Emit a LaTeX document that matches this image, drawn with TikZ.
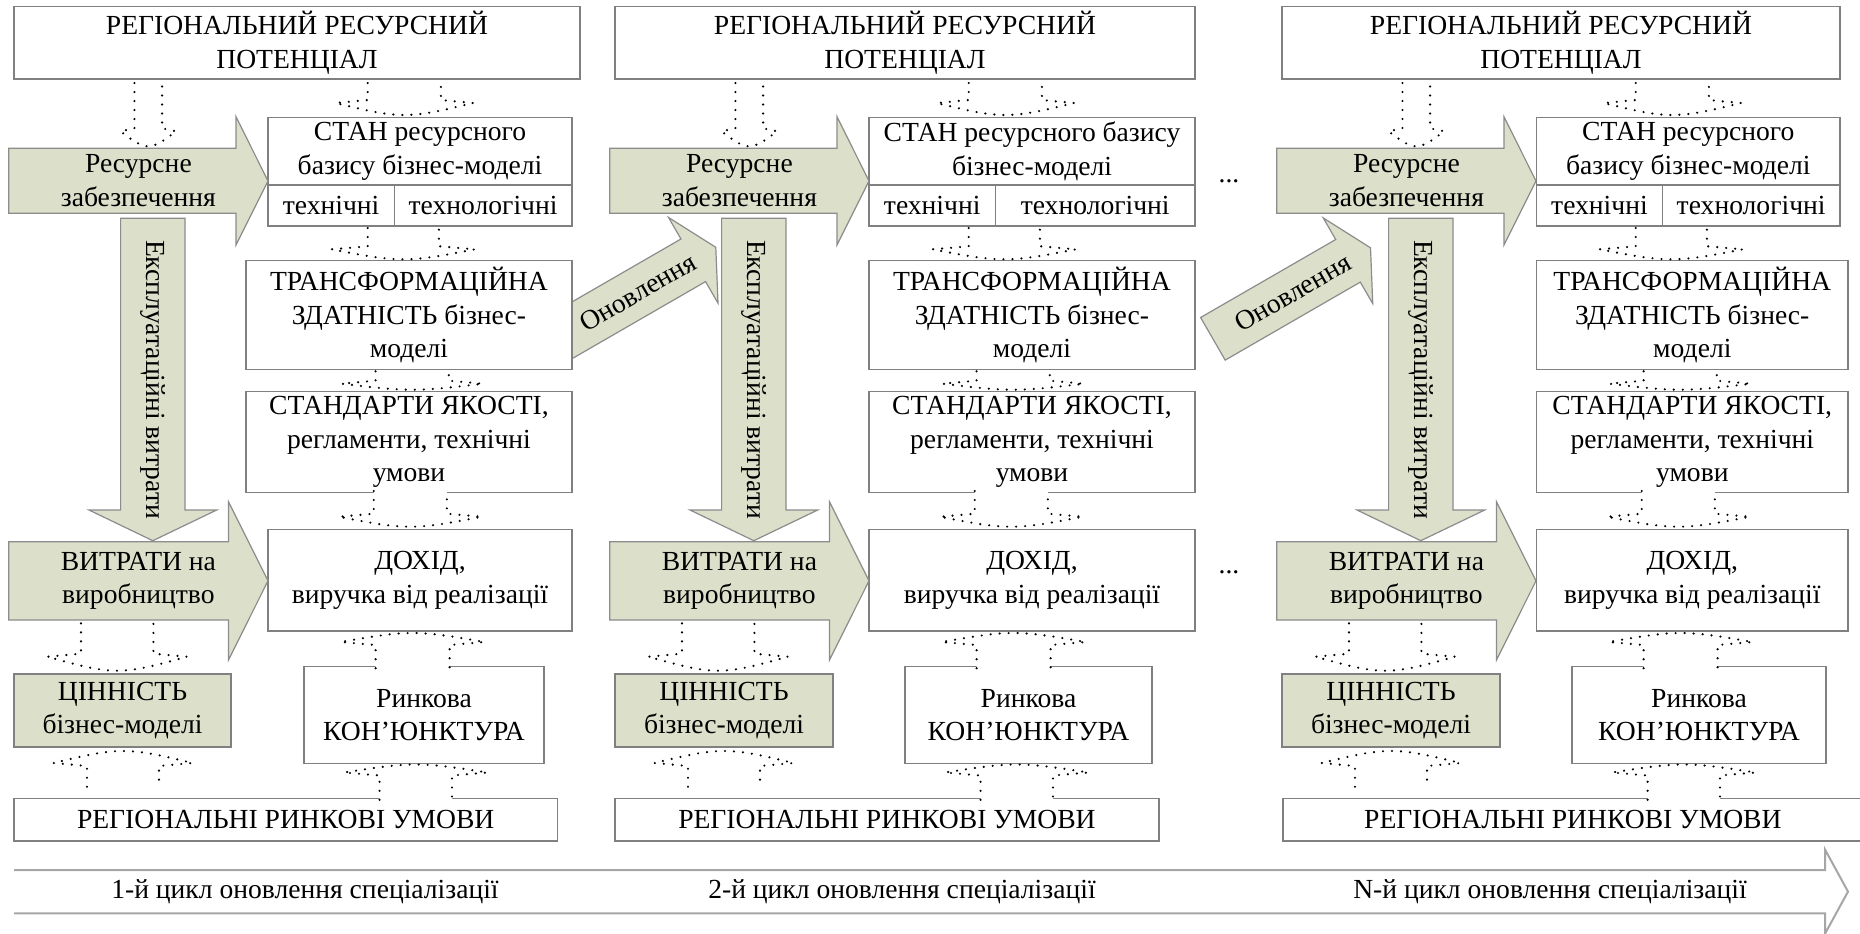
\documentclass[tikz,border=0pt]{standalone}
\usepackage{fontspec}
\setmainfont{Liberation Serif}
\usetikzlibrary{positioning, calc}

\definecolor{olv}{HTML}{DCDFC9}
\newcommand\dfont{\fontsize{13.8}{16.8}\selectfont}

% dotted block arrow: source, target, x centre, half shaft, barb, gap at source, head, gap at tip
\newcommand\dotdn[8]{%
  \draw[dotline] let \p1=(#1), \p2=(#2) in
    ({(#3-#4)*0.5pt},{\y1-(#6)*0.5pt}) -- ({(#3-#4)*0.5pt},{\y2+(#8+#7+3)*0.5pt})
    -- ({(#3-#4-#5)*0.5pt},{\y2+(#8+#7)*0.5pt})
    .. controls ({(#3-0.6*(#4+#5))*0.5pt},{\y2+(#8+0.45*#7)*0.5pt}) and ({(#3-0.3*(#4+#5))*0.5pt},{\y2+(#8)*0.5pt}) .. ({(#3)*0.5pt},{\y2+(#8)*0.5pt})
    .. controls ({(#3+0.3*(#4+#5))*0.5pt},{\y2+(#8)*0.5pt}) and ({(#3+0.6*(#4+#5))*0.5pt},{\y2+(#8+0.45*#7)*0.5pt}) .. ({(#3+#4+#5)*0.5pt},{\y2+(#8+#7)*0.5pt})
    -- ({(#3+#4)*0.5pt},{\y2+(#8+#7+3)*0.5pt}) -- ({(#3+#4)*0.5pt},{\y1-(#6)*0.5pt});}
\newcommand\dotup[8]{%
  \draw[dotline] let \p1=(#1), \p2=(#2) in
    ({(#3-#4)*0.5pt},{\y1+(#6)*0.5pt}) -- ({(#3-#4)*0.5pt},{\y2-(#8+#7+3)*0.5pt})
    -- ({(#3-#4-#5)*0.5pt},{\y2-(#8+#7)*0.5pt})
    .. controls ({(#3-0.6*(#4+#5))*0.5pt},{\y2-(#8+0.45*#7)*0.5pt}) and ({(#3-0.3*(#4+#5))*0.5pt},{\y2-(#8)*0.5pt}) .. ({(#3)*0.5pt},{\y2-(#8)*0.5pt})
    .. controls ({(#3+0.3*(#4+#5))*0.5pt},{\y2-(#8)*0.5pt}) and ({(#3+0.6*(#4+#5))*0.5pt},{\y2-(#8+0.45*#7)*0.5pt}) .. ({(#3+#4+#5)*0.5pt},{\y2-(#8+#7)*0.5pt})
    -- ({(#3+#4)*0.5pt},{\y2-(#8+#7+3)*0.5pt}) -- ({(#3+#4)*0.5pt},{\y1+(#6)*0.5pt});}

\begin{document}
\begin{tikzpicture}[x=0.5pt, y=-0.5pt,
  box/.style={draw=black!50, fill=white, line width=0.7pt, outer sep=0pt, inner sep=1pt, align=center, font=\dfont},
  gbox/.style={box, fill=olv},
  blockarr/.style={draw=black!45, fill=olv, line width=0.6pt},
  lbl/.style={align=center, font=\dfont, inner sep=0pt},
  dotline/.style={black, line width=1.2pt, line cap=round, dash pattern=on 0pt off 4.5pt, fill=white},
  cycarr/.style={draw=black!35, line width=1pt},
  wd/.style={minimum width=#1*0.5pt},
  ht/.style={minimum height=#1*0.5pt}]
  \useasboundingbox (0,0) rectangle (1860,933);

  % renewal arrows (tail of the first one goes under the box)
  \begin{scope}[shift={(554.7,340.3)}, rotate=30]
    \draw[blockarr] (0,-24.6) -- (160,-24.6) -- (160,-49.5) -- (186,0) -- (160,49.5) -- (160,24.6) -- (0,24.6) -- cycle;
    \node[lbl, rotate=30] (upd1) at (96,0) {Оновлення};
  \end{scope}
  \begin{scope}[shift={(1212.9,338.8)}, rotate=30]
    \draw[blockarr] (0,-24.6) -- (156,-24.6) -- (156,-49.5) -- (182,0) -- (156,49.5) -- (156,24.6) -- (0,24.6) -- cycle;
    \node[lbl, rotate=30] (upd2) at (92,0) {Оновлення};
  \end{scope}

  % cycle 1
  \node[box, wd=566, ht=72.3] (pot1) at (297,42.85) {РЕГІОНАЛЬНИЙ РЕСУРСНИЙ\\ПОТЕНЦІАЛ};
  \node[box, wd=304, ht=67.3] (stan1) at (420,151.35) {СТАН ресурсного\\базису бізнес-моделі};
  \node[box, wd=126.2, ht=41, anchor=north west] (tch1) at (stan1.south west) {технічні};
  \node[box, wd=177.8, ht=41, right=0pt of tch1] (tcl1) {технологічні};
  \node[box, wd=326, ht=108.6] (trf1) at (409,315) {ТРАНСФОРМАЦІЙНА\\ЗДАТНІСТЬ бізнес-\\моделі};
  \node[box, wd=326, ht=100.8] (std1) at (409,442.1) {СТАНДАРТИ ЯКОСТІ,\\регламенти, технічні\\умови};
  \node[box, wd=304, ht=101.7] (doh1) at (420,580.15) {ДОХІД,\\виручка від реалізації};
  \node[gbox, wd=217, ht=73] (cin1) at (122.5,710.5) {ЦІННІСТЬ\\бізнес-моделі};
  \node[box, wd=240, ht=96.6] (rnk1) at (424,715) {Ринкова\\КОН’ЮНКТУРА};
  \node[box, wd=543.5, ht=42.7] (reg1) at (285.75,819.65) {РЕГІОНАЛЬНІ РИНКОВІ УМОВИ};

  \draw[blockarr] (8.7,148.3) -- (236,148.3) -- (236,116.7) -- (268,181) -- (236,245) -- (236,213.3) -- (8.7,213.3) -- cycle;
  \node[lbl, ht=65] (res1) at (138.4,180.8) {Ресурсне\\забезпечення};
  \draw[blockarr] (120.6,218.3) -- (185,218.3) -- (185,510) -- (216.7,510) -- (152.8,540.7) -- (89,510) -- (120.6,510) -- cycle;
  \node[lbl, rotate=-90] (exp1) at (152.8,379.5) {Експлуатаційні витрати};
  \draw[blockarr] (8.7,541.7) -- (228.5,541.7) -- (228.5,501.7) -- (268,580.8) -- (228.5,660) -- (228.5,620) -- (8.7,620) -- cycle;
  \node[lbl, ht=78.3] (vyt1) at (138.4,580.85) {ВИТРАТИ на\\виробництво};

  % cycle 2
  \node[box, wd=580, ht=72.3] (pot2) at (905,42.85) {РЕГІОНАЛЬНИЙ РЕСУРСНИЙ\\ПОТЕНЦІАЛ};
  \node[box, wd=326, ht=67.3] (stan2) at (1032,151.35) {СТАН ресурсного базису\\бізнес-моделі};
  \node[box, wd=126.4, ht=41, anchor=north west] (tch2) at (stan2.south west) {технічні};
  \node[box, wd=199.6, ht=41, right=0pt of tch2] (tcl2) {технологічні};
  \node[box, wd=326, ht=108.6] (trf2) at (1032,315) {ТРАНСФОРМАЦІЙНА\\ЗДАТНІСТЬ бізнес-\\моделі};
  \node[box, wd=326, ht=100.8] (std2) at (1032,442.1) {СТАНДАРТИ ЯКОСТІ,\\регламенти, технічні\\умови};
  \node[box, wd=326, ht=101.7] (doh2) at (1032,580.15) {ДОХІД,\\виручка від реалізації};
  \node[gbox, wd=218, ht=73] (cin2) at (724,710.5) {ЦІННІСТЬ\\бізнес-моделі};
  \node[box, wd=247, ht=96.6] (rnk2) at (1028.5,715) {Ринкова\\КОН’ЮНКТУРА};
  \node[box, wd=544, ht=42.7] (reg2) at (887,819.65) {РЕГІОНАЛЬНІ РИНКОВІ УМОВИ};

  \draw[blockarr] (609.7,148.3) -- (837,148.3) -- (837,116.7) -- (869,181) -- (837,245) -- (837,213.3) -- (609.7,213.3) -- cycle;
  \node[lbl, ht=65] (res2) at (739.4,180.8) {Ресурсне\\забезпечення};
  \draw[blockarr] (721.6,218.3) -- (786,218.3) -- (786,510) -- (817.7,510) -- (753.8,540.7) -- (690,510) -- (721.6,510) -- cycle;
  \node[lbl, rotate=-90] (exp2) at (753.8,379.5) {Експлуатаційні витрати};
  \draw[blockarr] (609.7,541.7) -- (829.5,541.7) -- (829.5,501.7) -- (869,580.8) -- (829.5,660) -- (829.5,620) -- (609.7,620) -- cycle;
  \node[lbl, ht=78.3] (vyt2) at (739.4,580.85) {ВИТРАТИ на\\виробництво};

  % cycle N
  \node[box, wd=558, ht=72.3] (pot3) at (1561,42.85) {РЕГІОНАЛЬНИЙ РЕСУРСНИЙ\\ПОТЕНЦІАЛ};
  \node[box, wd=303.4, ht=67.3] (stan3) at (1688.3,151.35) {СТАН ресурсного\\базису бізнес-моделі};
  \node[box, wd=125.7, ht=41, anchor=north west] (tch3) at (stan3.south west) {технічні};
  \node[box, wd=177.7, ht=41, right=0pt of tch3] (tcl3) {технологічні};
  \node[box, wd=311.4, ht=108.6] (trf3) at (1692.3,315) {ТРАНСФОРМАЦІЙНА\\ЗДАТНІСТЬ бізнес-\\моделі};
  \node[box, wd=311.4, ht=100.8] (std3) at (1692.3,442.1) {СТАНДАРТИ ЯКОСТІ,\\регламенти, технічні\\умови};
  \node[box, wd=311.4, ht=101.7] (doh3) at (1692.3,580.15) {ДОХІД,\\виручка від реалізації};
  \node[gbox, wd=218, ht=73] (cin3) at (1391,710.5) {ЦІННІСТЬ\\бізнес-моделі};
  \node[box, wd=254, ht=96.6] (rnk3) at (1699,715) {Ринкова\\КОН’ЮНКТУРА};
  \node[box, wd=580.2, ht=42.7] (reg3) at (1572.9,819.65) {РЕГІОНАЛЬНІ РИНКОВІ УМОВИ};

  \draw[blockarr] (1276.7,148.3) -- (1504,148.3) -- (1504,116.7) -- (1536,181) -- (1504,245) -- (1504,213.3) -- (1276.7,213.3) -- cycle;
  \node[lbl, ht=65] (res3) at (1406.4,180.8) {Ресурсне\\забезпечення};
  \draw[blockarr] (1388.6,218.3) -- (1453,218.3) -- (1453,510) -- (1484.7,510) -- (1420.8,540.7) -- (1357,510) -- (1388.6,510) -- cycle;
  \node[lbl, rotate=-90] (exp3) at (1420.8,379.5) {Експлуатаційні витрати};
  \draw[blockarr] (1276.7,541.7) -- (1496.5,541.7) -- (1496.5,501.7) -- (1536,580.8) -- (1496.5,660) -- (1496.5,620) -- (1276.7,620) -- cycle;
  \node[lbl, ht=78.3] (vyt3) at (1406.4,580.85) {ВИТРАТИ на\\виробництво};

  \node[lbl] (more1) at (1229,181) {...};
  \node[lbl] (more2) at (1229,572) {...};

  % dotted links
  \dotdn{pot1.south}{res1.north}{148.3}{13.85}{14}{4}{15}{1.6}
  \dotdn{pot1.south}{stan1.north}{404.3}{36.6}{32}{4}{12}{2.7}
  \dotdn{tch1.south}{trf1.north}{403.3}{35.6}{36}{2}{10}{1.4}
  \dotdn{trf1.south}{std1.north}{412.2}{36.6}{34}{2}{6}{2}
  \dotdn{std1.south}{doh1.north}{410.3}{36.55}{35}{-1.5}{10}{2.6}
  \dotdn{vyt1.south}{cin1.north}{117.2}{36.2}{33.5}{3}{14}{3.3}
  \dotup{reg1.north}{cin1.south}{123}{36}{33.5}{11.6}{12}{4}
  \dotup{rnk1.north}{doh1.south}{412.6}{37}{35}{-1.5}{9}{2}
  \dotup{reg1.north}{rnk1.south}{415.8}{36.2}{35.5}{-1.5}{8}{1.2}

  \dotdn{pot2.south}{res2.north}{749.3}{13.85}{14}{4}{15}{1.6}
  \dotdn{pot2.south}{stan2.north}{1005.3}{36.6}{32}{4}{12}{2.7}
  \dotdn{tch2.south}{trf2.north}{1004.3}{35.6}{36}{2}{10}{1.4}
  \dotdn{trf2.south}{std2.north}{1013.2}{36.6}{34}{2}{6}{2}
  \dotdn{std2.south}{doh2.north}{1011.3}{36.55}{35}{-1.5}{10}{2.6}
  \dotdn{vyt2.south}{cin2.north}{718.2}{36.2}{33.5}{3}{14}{3.3}
  \dotup{reg2.north}{cin2.south}{724}{36}{33.5}{11.6}{12}{4}
  \dotup{rnk2.north}{doh2.south}{1013.6}{37}{35}{-1.5}{9}{2}
  \dotup{reg2.north}{rnk2.south}{1016.8}{36.2}{35.5}{-1.5}{8}{1.2}

  \dotdn{pot3.south}{res3.north}{1416.3}{13.85}{14}{4}{15}{1.6}
  \dotdn{pot3.south}{stan3.north}{1672.3}{36.6}{32}{4}{12}{2.7}
  \dotdn{tch3.south}{trf3.north}{1671.3}{35.6}{36}{2}{10}{1.4}
  \dotdn{trf3.south}{std3.north}{1680.2}{36.6}{34}{2}{6}{2}
  \dotdn{std3.south}{doh3.north}{1678.3}{36.55}{35}{-1.5}{10}{2.6}
  \dotdn{vyt3.south}{cin3.north}{1385.2}{36.2}{33.5}{3}{14}{3.3}
  \dotup{reg3.north}{cin3.south}{1391}{36}{33.5}{11.6}{12}{4}
  \dotup{rnk3.north}{doh3.south}{1680.6}{37}{35}{-1.5}{9}{2}
  \dotup{reg3.north}{rnk3.south}{1683.8}{36.2}{35.5}{-1.5}{8}{1.2}

  % time axis
  \draw[cycarr] (14,870) -- (1825,870) -- (1825,849.5) -- (1848,891.6) -- (1825,933.7) -- (1825,913.3) -- (14,913.3);
  \node[lbl] (cyc1) at (305,891.7) {1-й цикл оновлення спеціалізації};
  \node[lbl] (cyc2) at (902,891.7) {2-й цикл оновлення спеціалізації};
  \node[lbl] (cyc3) at (1550,891.7) {N-й цикл оновлення спеціалізації};
\end{tikzpicture}
\end{document}
